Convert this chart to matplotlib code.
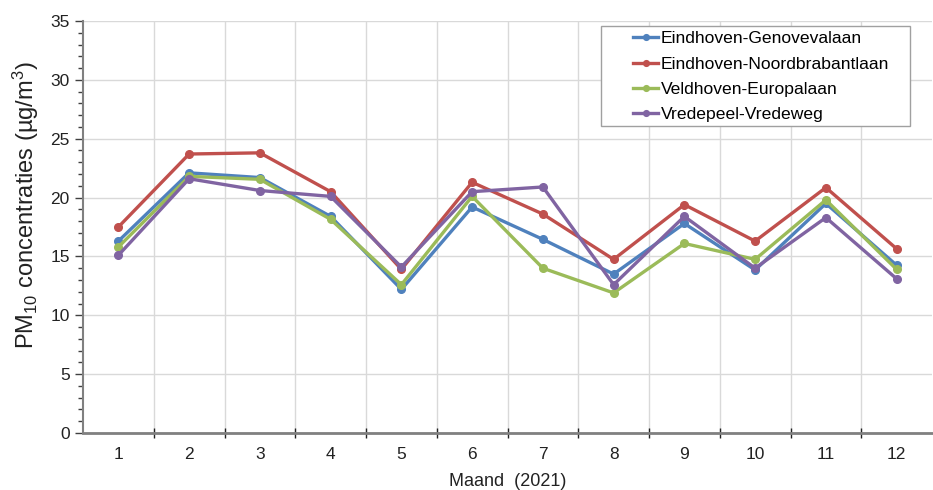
import matplotlib
matplotlib.use("Agg")
import matplotlib.pyplot as plt
from matplotlib.ticker import MultipleLocator, FixedLocator, NullFormatter
from matplotlib.patches import Rectangle

plt.rcParams['font.family'] = ['Liberation Sans', 'DejaVu Sans']
plt.rcParams['mathtext.fontset'] = 'custom'
plt.rcParams['mathtext.rm'] = 'Liberation Sans'
plt.rcParams['mathtext.it'] = 'Liberation Sans'

months = [1, 2, 3, 4, 5, 6, 7, 8, 9, 10, 11, 12]
genovevalaan = [16.3, 22.1, 21.7, 18.4, 12.2, 19.2, 16.45, 13.5, 17.8, 13.85, 19.5, 14.25]
noordbrabantlaan = [17.5, 23.7, 23.8, 20.5, 13.9, 21.3, 18.6, 14.75, 19.4, 16.3, 20.85, 15.65]
europalaan = [15.8, 21.8, 21.55, 18.15, 12.6, 20.1, 14.0, 11.9, 16.1, 14.75, 19.8, 13.9]
vredeweg = [15.1, 21.6, 20.6, 20.1, 14.1, 20.5, 20.9, 12.6, 18.4, 14.0, 18.3, 13.1]

series = [
    ("Eindhoven-Genovevalaan", genovevalaan, "#4F81BD"),
    ("Eindhoven-Noordbrabantlaan", noordbrabantlaan, "#C0504D"),
    ("Veldhoven-Europalaan", europalaan, "#9BBB59"),
    ("Vredepeel-Vredeweg", vredeweg, "#8064A2"),
]

W, H = 933, 490
fig = plt.figure(figsize=(W/100, H/100), dpi=100)
ax = fig.add_axes([83/W, 1 - 433/H, 849/W, (433 - 21)/H])

for name, vals, col in series:
    ax.plot(months, vals, color=col, lw=2.4, marker='o', ms=5.5, label=name,
            solid_joinstyle='round')

ax.set_xlim(0.5, 12.5)
ax.set_ylim(0, 35)

ax.yaxis.set_major_locator(MultipleLocator(5))
ax.yaxis.set_minor_locator(MultipleLocator(1))
ax.xaxis.set_major_locator(FixedLocator([m + 0.5 for m in months[:-1]]))
ax.xaxis.set_major_formatter(NullFormatter())
ax.xaxis.set_minor_locator(FixedLocator(months))
ax.set_xticklabels([str(m) for m in months], minor=True)

ax.tick_params(axis='y', which='major', direction='out', length=6, width=1, labelsize=12.5, colors='#404040', labelcolor='#222222')
ax.tick_params(axis='y', which='minor', direction='out', length=3.5, width=1, colors='#404040')
ax.tick_params(axis='x', which='major', direction='inout', length=7, width=1, colors='#222222')
ax.tick_params(axis='x', which='minor', length=0, labelsize=12.5, pad=10, labelcolor='#222222')

ax.grid(True, which='major', color='#d9d9d9', lw=1)
ax.set_axisbelow(True)

for s in ['top', 'right']:
    ax.spines[s].set_visible(False)
ax.spines['left'].set_color('#808080')
ax.spines['bottom'].set_color('#808080')
ax.spines['bottom'].set_linewidth(2)
ax.spines['left'].set_linewidth(1.5)

ax.set_ylabel(r'PM$_{10}$ concentraties (µg/m$^3$)', fontsize=17, color='#222222', labelpad=7)
ax.yaxis.label.set_y((433 - 205) / 412)
ax.set_xlabel('Maand  (2021)', fontsize=13, color='#222222', labelpad=8)

# legend frame (Excel style, wider than the entries)
fig.patches.append(Rectangle((601/W, 1 - 126/H), (910 - 601)/W, (126 - 26)/H,
                             transform=fig.transFigure, facecolor='white',
                             edgecolor='#a0a0a0', lw=1, zorder=5))

fs = 12.6
leg = fig.legend(loc='upper left', bbox_to_anchor=(633/W, 1 - 31/H),
                 fontsize=fs, frameon=False,
                 handlelength=1.43, handletextpad=0.17, borderpad=0, labelspacing=0.58,
                 markerscale=0.75, borderaxespad=0)
leg.set_zorder(6)
for h in leg.get_lines():
    h.set_linewidth(2.4)

fig.savefig('out.png', dpi=100)
